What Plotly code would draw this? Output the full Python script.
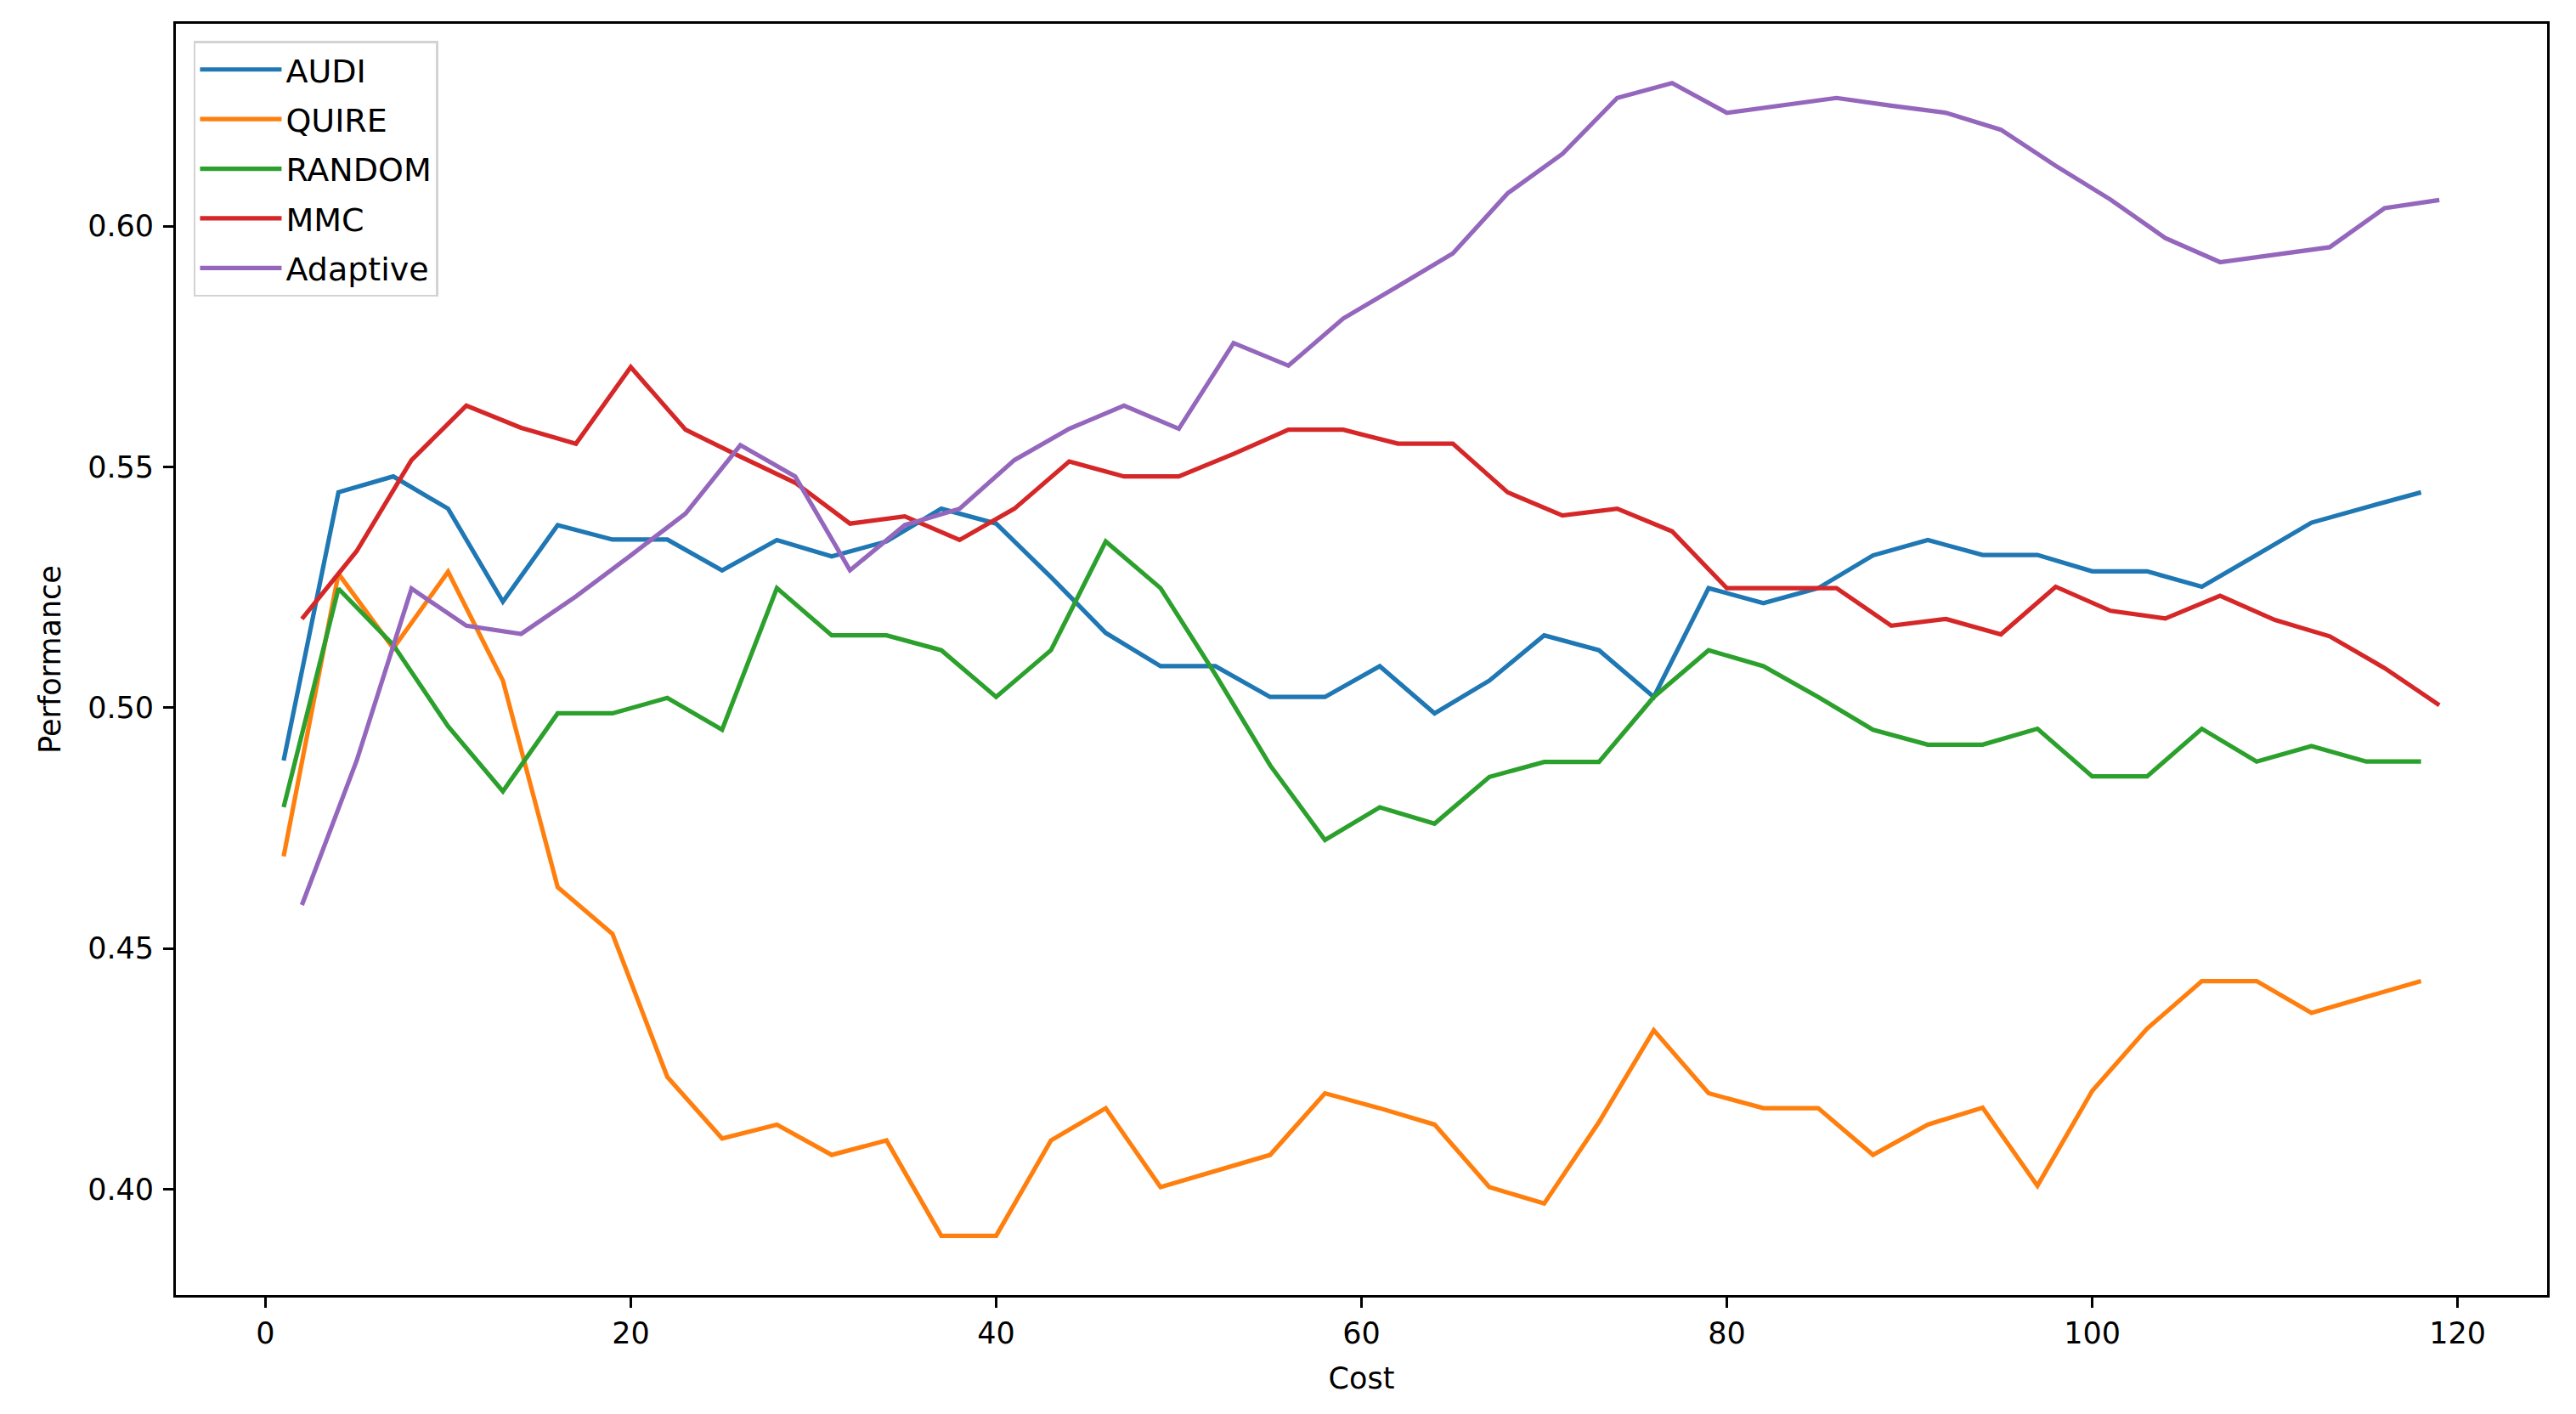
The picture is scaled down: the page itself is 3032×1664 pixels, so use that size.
import plotly.graph_objects as go

# ---- data ----
cost_odd = [1, 4, 7, 10, 13, 16, 19, 22, 25, 28, 31, 34, 37, 40, 43, 46, 49, 52, 55, 58,
            61, 64, 67, 70, 73, 76, 79, 82, 85, 88, 91, 94, 97, 100, 103, 106, 109, 112, 115, 118]
cost_even = [2, 5, 8, 11, 14, 17, 20, 23, 26, 29, 32, 35, 38, 41, 44, 47, 50, 53, 56, 59,
             62, 65, 68, 71, 74, 77, 80, 83, 86, 89, 92, 95, 98, 101, 104, 107, 110, 113, 116, 119]

audi = [0.4890, 0.5447, 0.5480, 0.5413, 0.5220, 0.5379, 0.5349, 0.5349, 0.5285, 0.5348,
        0.5314, 0.5345, 0.5413, 0.5382, 0.5271, 0.5155, 0.5086, 0.5086, 0.5022, 0.5022,
        0.5086, 0.4988, 0.5056, 0.5150, 0.5119, 0.5022, 0.5248, 0.5217, 0.5248, 0.5316,
        0.5348, 0.5317, 0.5317, 0.5283, 0.5283, 0.5251, 0.5317, 0.5384, 0.5416, 0.5447]

quire = [0.4691, 0.5278, 0.5123, 0.5282, 0.5056, 0.4627, 0.4530, 0.4233, 0.4105, 0.4134,
         0.4071, 0.4101, 0.3903, 0.3903, 0.4101, 0.4168, 0.4004, 0.4037, 0.4071, 0.4199,
         0.4168, 0.4134, 0.4004, 0.3970, 0.4139, 0.4330, 0.4199, 0.4168, 0.4168, 0.4071,
         0.4134, 0.4169, 0.4007, 0.4204, 0.4333, 0.4432, 0.4432, 0.4366, 0.4398, 0.4432]

random_ = [0.4793, 0.5247, 0.5130, 0.4961, 0.4826, 0.4988, 0.4988, 0.5020, 0.4954, 0.5248,
           0.5150, 0.5150, 0.5119, 0.5022, 0.5119, 0.5345, 0.5248, 0.5069, 0.4880, 0.4725,
           0.4793, 0.4759, 0.4856, 0.4887, 0.4887, 0.5022, 0.5119, 0.5086, 0.5022, 0.4954,
           0.4923, 0.4923, 0.4956, 0.4857, 0.4857, 0.4956, 0.4888, 0.4920, 0.4888, 0.4888]

mmc = [0.5184, 0.5325, 0.5514, 0.5627, 0.5581, 0.5548, 0.5707, 0.5577, 0.5521, 0.5467,
       0.5382, 0.5397, 0.5348, 0.5413, 0.5511, 0.5480, 0.5480, 0.5527, 0.5577, 0.5577,
       0.5548, 0.5548, 0.5447, 0.5399, 0.5413, 0.5366, 0.5248, 0.5248, 0.5248, 0.5170,
       0.5184, 0.5152, 0.5251, 0.5201, 0.5185, 0.5232, 0.5182, 0.5148, 0.5082, 0.5005]

adaptive = [0.4590, 0.4890, 0.5247, 0.5170, 0.5153, 0.5231, 0.5316, 0.5403, 0.5545, 0.5480,
            0.5285, 0.5379, 0.5413, 0.5514, 0.5579, 0.5627, 0.5579, 0.5757, 0.5710, 0.5808,
            0.5875, 0.5943, 0.6068, 0.6150, 0.6266, 0.6297, 0.6235, 0.6250, 0.6266, 0.6250,
            0.6235, 0.6200, 0.6125, 0.6055, 0.5975, 0.5925, 0.5940, 0.5956, 0.6037, 0.6054]

series_names = ["AUDI", "QUIRE", "RANDOM", "MMC", "Adaptive"]
series_x = [cost_odd, cost_odd, cost_odd, cost_even, cost_even]
series_y = [audi, quire, random_, mmc, adaptive]
colors = ["#1f77b4", "#ff7f0e", "#2ca02c", "#d62728", "#9467bd"]

x_ticks = [0, 20, 40, 60, 80, 100, 120]
y_ticks = [0.40, 0.45, 0.50, 0.55, 0.60]
y_tick_labels = ["0.40", "0.45", "0.50", "0.55", "0.60"]

# ---- figure ----
fig = go.Figure()
for name, xs, ys, c in zip(series_names, series_x, series_y, colors):
    fig.add_trace(go.Scatter(x=xs, y=ys, mode="lines", name=name, legendgroup=name,
                             line=dict(color=c, width=5.2)))

axis_common = dict(showline=True, linecolor="black", linewidth=2.8, mirror=True,
                   ticks="outside", ticklen=12, tickwidth=2.8, tickcolor="black",
                   showgrid=False, zeroline=False,
                   tickfont=dict(family="DejaVu Sans", size=35, color="black"))

fig.update_layout(
    width=3032, height=1664,
    margin=dict(l=199, r=42, t=20, b=148),
    paper_bgcolor="white", plot_bgcolor="white",
    font=dict(family="DejaVu Sans", size=35, color="black"),
    showlegend=True,
    legend=dict(x=0.0075, y=0.9866, xanchor="left", yanchor="top",
                bgcolor="rgba(255,255,255,0.8)", bordercolor="#d3d3d3", borderwidth=2.5,
                font=dict(family="DejaVu Sans", size=38, color="black"),
                tracegroupgap=6, traceorder="grouped", itemwidth=96),
    xaxis=dict(range=[-4.9, 124.9], tickvals=x_ticks,
               title=dict(text="Cost", standoff=22,
                          font=dict(family="DejaVu Sans", size=35, color="black")),
               **axis_common),
    yaxis=dict(range=[0.378, 0.642], tickvals=y_ticks, ticktext=y_tick_labels,
               ticklabelstandoff=4,
               title=dict(text="Performance", standoff=21,
                          font=dict(family="DejaVu Sans", size=35, color="black")),
               **axis_common),
)

fig.write_html("out.html")
